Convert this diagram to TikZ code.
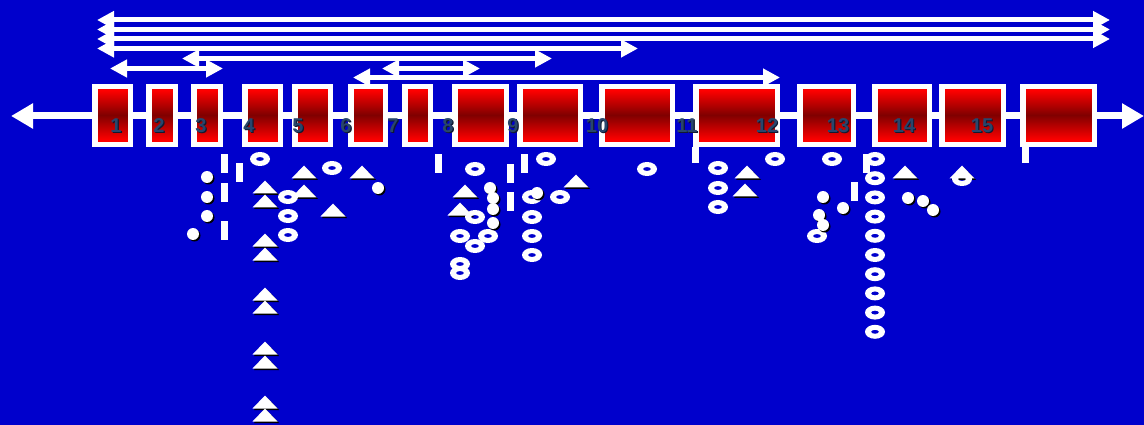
\documentclass[tikz,border=0pt]{standalone}
\usepackage{fontspec}
\setmainfont{Liberation Sans}
\usetikzlibrary{arrows.meta}
\definecolor{bg}{RGB}{0,0,204}
\definecolor{lab}{RGB}{40,70,108}
\definecolor{labsh}{RGB}{16,26,48}
\definecolor{dred}{RGB}{128,0,0}
\begin{document}
\begin{tikzpicture}[x=1pt,y=-1pt,
 box/.style={rectangle, fill=white, inner sep=0pt, outer sep=0pt},
 lbl/.style={font=\bfseries\fontsize{20}{20}\selectfont, text=lab, inner sep=0pt},
 lblsh/.style={font=\bfseries\fontsize{20}{20}\selectfont, text=labsh, inner sep=0pt},
 arr/.style={white, line width=5pt, {Triangle[length=17pt,width=17pt]}-{Triangle[length=17pt,width=17pt]}},
 mainarr/.style={white, line width=7pt, {Triangle[length=22pt,width=24pt]}-{Triangle[length=22pt,width=24pt]}},
 pics/dot/.style={code={\fill[black] (1.5,1.5) circle[radius=6]; \fill[white] (0,0) circle[radius=6];}},
 pics/ring/.style={code={\fill[white,even odd rule] (0,0) ellipse[x radius=10,y radius=7] (0,0) ellipse[x radius=4,y radius=2];}},
 pics/tri/.style={code={\fill[black] (-11,8) -- (14,8) -- (1.5,-5) -- cycle; \fill[white] (-12.5,6.5) -- (12.5,6.5) -- (0,-6.5) -- cycle;}},
 pics/bar/.style={code={\fill[white] (-3.5,-9.5) rectangle (3.5,9.5);}},
 pics/sbar/.style={code={\fill[white] (-3.5,-8) rectangle (3.5,8);}},
]
\useasboundingbox (0,0) rectangle (1144,425);
\fill[bg] (0,0) rectangle (1144,425);

% top arrows
\foreach \i/\xa/\xb/\y in {1/97/1110/20, 2/97/1110/29.5, 3/97/1110/39, 4/97/638/48.5,
  5/182/552/58.5, 6/110/223/68.5, 7/382/480/68.5, 8/353/780/77.5}{
  \coordinate (l\i) at (\xa,\y);
  \coordinate (r\i) at (\xb,\y);
  \draw[arr] (l\i) -- (r\i);
}

% main line
\coordinate (mL) at (11,116);
\coordinate (mR) at (1144,116);
\draw[mainarr] (mL) -- (mR);

% boxes: white frame with a red - dark red - red vertical gradient inside
\foreach \n/\c/\w in {1/112.5/41, 2/162/32, 3/207/32, 4/262.5/41, 5/312.5/41, 6/368/40,
  7/417.5/31, 8/480.5/57, 9/550/66, 10/637/76, 11/736.5/87, 12/826.5/59, 13/902/60,
  14/972.5/67, 15/1058.5/77}{
  \node[box, minimum width=\w pt, minimum height=63pt] (b\n) at (\c,115.5) {};
  \foreach \k in {0,...,52}{
    \pgfmathsetmacro\p{min(100,100*abs(\k+0.5-26.5)/25)}
    \fill[red!\p!dred] (\c-\w/2+5.5, 89+\k) rectangle (\c+\w/2-5.5, 90.3+\k);
  }
}

% labels
\foreach \n/\x in {1/116, 2/159, 3/201, 4/249, 5/298, 6/346, 7/393, 8/448, 9/513,
  10/597, 11/687, 12/767, 13/838, 14/904, 15/982}{
  \node[lblsh] (s\n) at (\x+1.2,126.7) {\n};
  \node[lbl] (t\n) at (\x,125.5) {\n};
}

% triangles
\foreach \x/\y in {304/172, 362/172, 265/187, 304/191, 265/201, 333/210, 265/240, 265/254,
  265/294, 265/307, 265/348, 265/362, 265/402, 265/415, 465/191, 460/209, 576/181,
  747/172, 745/190, 905/172, 962/172}{
  \pic at (\x,\y) {tri};
}

% rings
\foreach \x/\y in {260/159, 288/197, 288/216, 288/235, 332/168, 475/169, 546/159, 647/169,
  560/197, 532/197, 532/217, 532/236, 532/255, 475/217, 460/236, 475/246, 488/236,
  460/264, 460/273, 775/159, 832/159, 718/168, 718/188, 718/207, 817/236, 962/179}{
  \pic at (\x,\y) {ring};
}
\foreach \k in {0,...,9}{
  \pic at (875,159+19.2*\k) {ring};
}

% bars
\foreach \x/\y in {224.5/163.5, 239/173, 224.5/192.5, 224.5/230.5, 438/163.5, 510/173.5,
  510/202, 524/163.5, 866.5/164, 854/192}{
  \pic at (\x,\y) {bar};
}
\foreach \x in {695.5, 1025}{
  \pic at (\x,155) {sbar};
}

% dots
\foreach \x/\y in {207/177, 207/197, 207/216, 193/234, 378/188, 490/188, 493/198, 493/209,
  493/223, 537/193, 823/197, 843/208, 819/215, 823/225, 908/198, 923/201, 933/210}{
  \pic at (\x,\y) {dot};
}
\end{tikzpicture}
\end{document}
